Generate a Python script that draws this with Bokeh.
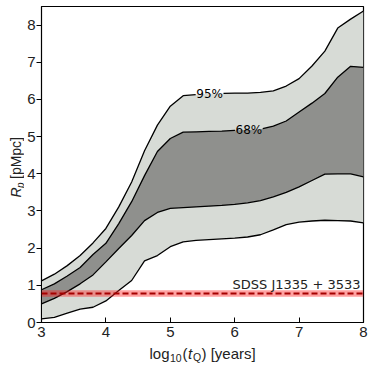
import numpy as np
from bokeh.plotting import figure
from bokeh.layouts import row, column
from bokeh.models import Label, Span, BoxAnnotation, Range1d, FixedTicker
from bokeh.embed import file_html
from bokeh.resources import INLINE

# ---- data ----
log_tq = [3.0, 3.2, 3.4, 3.6, 3.8, 4.0, 4.2, 4.4, 4.6, 4.8, 5.0, 5.2, 5.4,
          5.6, 5.8, 6.0, 6.2, 6.4, 6.6, 6.8, 7.0, 7.2, 7.4, 7.6, 7.8, 8.0]
upper95 = [1.12, 1.30, 1.53, 1.80, 2.14, 2.53, 3.11, 3.78, 4.62, 5.31, 5.82, 6.10, 6.13,
           6.15, 6.16, 6.17, 6.17, 6.19, 6.23, 6.36, 6.56, 6.90, 7.30, 7.92, 8.16, 8.38]
upper68 = [0.88, 1.04, 1.25, 1.48, 1.83, 2.13, 2.66, 3.25, 3.95, 4.60, 4.95, 5.12, 5.13,
           5.14, 5.15, 5.17, 5.18, 5.20, 5.28, 5.42, 5.66, 5.90, 6.16, 6.60, 6.89, 6.86]
lower68 = [0.50, 0.65, 0.83, 1.04, 1.28, 1.63, 1.99, 2.34, 2.74, 2.96, 3.07, 3.09, 3.11,
           3.13, 3.15, 3.18, 3.22, 3.28, 3.38, 3.50, 3.65, 3.82, 3.99, 4.00, 4.00, 3.92]
lower95 = [0.10, 0.14, 0.25, 0.36, 0.41, 0.58, 0.86, 1.13, 1.66, 1.80, 2.04, 2.17, 2.21,
           2.23, 2.25, 2.27, 2.30, 2.36, 2.49, 2.63, 2.70, 2.73, 2.75, 2.74, 2.73, 2.68]

obs_rp = 0.78          # SDSS J1335+3533 measured R_p
obs_rp_lo = 0.69
obs_rp_hi = 0.87
obs_name = "SDSS J1335 + 3533"

x_ticks = [3, 4, 5, 6, 7, 8]
y_ticks = [0, 1, 2, 3, 4, 5, 6, 7, 8]
label95 = "95%"
label68 = "68%"

# ---- layout geometry (page pixels) ----
W, H = 374, 368
YW = 24               # strip holding the y-axis title
XH = 24               # strip holding the x-axis title
FL, FB, FT, FR = 39, 322, 6, 363   # frame edges on the page

X0, X1 = 3.0, 8.0
Y0, Y1 = 0.0, 8.5
p = figure(width=W - YW, height=H - XH, output_backend="svg", toolbar_location=None,
           x_range=Range1d(X0, X1), y_range=Range1d(Y0, Y1),
           min_border_left=FL - YW, min_border_right=W - FR, min_border_top=FT,
           min_border_bottom=(H - XH) - FB)
p.xgrid.visible = False
p.ygrid.visible = False
p.outline_line_color = "black"
p.outline_line_alpha = 1.0
p.outline_line_width = 1.2
p.background_fill_color = "white"
p.border_fill_color = "white"

LIGHT = "#d7dbd6"
DARK = "#8f908d"

x = np.array(log_tq)
p.varea(x=x, y1=np.array(lower95), y2=np.array(upper95), fill_color=LIGHT)
p.varea(x=x, y1=np.array(lower68), y2=np.array(upper68), fill_color=DARK)


def split_line(xv, yv, gap_lo, gap_hi):
    xv = np.asarray(xv, float)
    yv = np.asarray(yv, float)
    m1 = xv < gap_lo
    m2 = xv > gap_hi
    xl = np.append(xv[m1], gap_lo)
    yl = np.append(yv[m1], np.interp(gap_lo, xv, yv))
    xr = np.insert(xv[m2], 0, gap_hi)
    yr = np.insert(yv[m2], 0, np.interp(gap_hi, xv, yv))
    return [xl, xr], [yl, yr]


px_x = (X1 - X0) / (FR - FL)  # data per pixel in x

xs_u95, ys_u95 = split_line(log_tq, upper95, 5.61 - 14 * px_x, 5.61 + 14 * px_x)
xs_u68, ys_u68 = split_line(log_tq, upper68, 6.22 - 14 * px_x, 6.22 + 14 * px_x)
xs = xs_u95 + xs_u68 + [x, x]
ys = ys_u95 + ys_u68 + [np.array(lower68), np.array(lower95)]
p.multi_line(xs=xs, ys=ys, line_color="black", line_width=1.3)

p.add_layout(Label(x=5.61, y=np.interp(5.61, x, upper95), text=label95,
                   text_font="DejaVu Sans", text_font_size="12px", text_color="black",
                   text_align="center", text_baseline="middle"))
p.add_layout(Label(x=6.22, y=np.interp(6.22, x, upper68), text=label68,
                   text_font="DejaVu Sans", text_font_size="12px", text_color="black",
                   text_align="center", text_baseline="middle"))

# observed value
p.add_layout(BoxAnnotation(bottom=obs_rp_lo, top=obs_rp_hi, fill_color="#ff2020",
                           fill_alpha=0.42, line_color=None))
p.add_layout(Span(location=obs_rp, dimension="width", line_color="#a50000",
                  line_width=2, line_dash="6 3"))
p.add_layout(Label(x=7.955, y=1.02, text=obs_name, text_font="DejaVu Sans",
                   text_font_size="13px", text_color="#222222",
                   text_align="right", text_baseline="alphabetic"))

# axes
for ax in (p.xaxis[0], p.yaxis[0]):
    ax.axis_line_color = "black"
    ax.major_tick_line_color = "black"
    ax.minor_tick_line_color = None
    ax.major_label_text_font = "Liberation Sans"
    ax.major_label_text_font_size = "15px"
    ax.major_label_text_color = "#222222"
    ax.axis_label = None
p.xaxis.ticker = FixedTicker(ticks=x_ticks)
p.yaxis.ticker = FixedTicker(ticks=y_ticks)
p.xaxis.major_tick_in = 5
p.xaxis.major_tick_out = 0
p.xaxis.major_label_standoff = 4
p.yaxis.major_tick_in = 0
p.yaxis.major_tick_out = 5
p.yaxis.major_label_standoff = 1


def text_strip(w, h):
    f = figure(width=w, height=h, output_backend="svg", toolbar_location=None,
               x_range=Range1d(0, 1), y_range=Range1d(0, 1),
               x_axis_type=None, y_axis_type=None, title=None,
               min_border=0, min_border_left=0, min_border_right=0,
               min_border_top=0, min_border_bottom=0)
    f.outline_line_color = None
    f.xgrid.visible = False
    f.ygrid.visible = False
    f.background_fill_color = "white"
    f.border_fill_color = "white"
    return f


FONT = "Liberation Sans"
COL = "#222222"

# x-axis title strip (screen px from its bottom-left)
xl_fig = text_strip(W - YW, XH)
base = 353
shift = -15 - YW
xlabel_parts = [
    ("log", 147, base, "15px", "normal"),
    ("10", 167.5, base + 4, "10.5px", "normal"),
    ("(", 180, base, "15px", "normal"),
    ("t", 185.5, base, "15px", "italic"),
    ("Q", 190.5, base + 3, "10.5px", "normal"),
    (") [years]", 199, base, "15px", "normal"),
]
for t, px, pyy, fs, st in xlabel_parts:
    xl_fig.add_layout(Label(x=px + shift, y=H - pyy, x_units="screen", y_units="screen",
                            text=t, text_font=FONT, text_font_size=fs,
                            text_font_style=st, text_color=COL,
                            text_align="left", text_baseline="alphabetic"))

# y-axis title strip
yl_fig = text_strip(YW, H)
cx = 15.5
ylabel_parts = [
    ("R", cx, 197, "14px", "italic"),
    ("p", cx + 4, 187.5, "10px", "italic"),
    (" [pMpc]", cx, 178.5, "14px", "normal"),
]
for t, px, pyy, fs, st in ylabel_parts:
    yl_fig.add_layout(Label(x=px, y=H - pyy, x_units="screen", y_units="screen",
                            text=t, text_font=FONT, text_font_size=fs,
                            text_font_style=st, text_color=COL, text_align="left",
                            text_baseline="middle", angle=np.pi / 2))

layout = row(yl_fig, column(p, xl_fig, spacing=0), spacing=0)
open("out.html", "w").write(file_html(layout, INLINE))
